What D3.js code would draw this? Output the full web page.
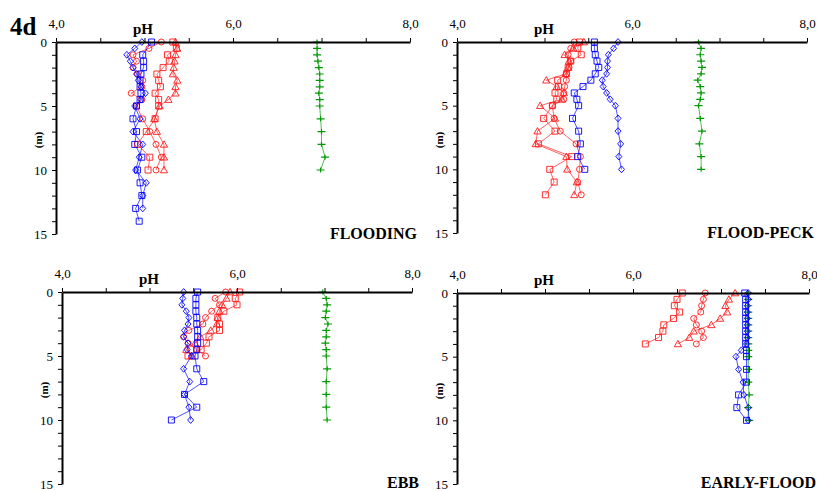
<!DOCTYPE html>
<html>
<head>
<meta charset="utf-8">
<script src="https://cdn.jsdelivr.net/npm/d3@7"></script>
<style>
  body { margin: 0; background: #fff; }
  svg { display: block; font-family: "Liberation Serif", "Times New Roman", serif; }
</style>
</head>
<body>
<svg id="chart" width="817" height="491"></svg>
<script>
// [depth (m), pH] pairs

// FLOODING
const floodBlueSq = [[0,5.08],[1,4.98],[1.5,4.99],[2,4.99],[2.5,4.96],[3,4.95],[3.5,4.95],[4,4.96],[4.5,4.95],[5,4.91],[6,4.87],[7,4.91],[8,4.89],[9,4.97],[10,4.92],[11,4.95],[12,4.97],[13,4.90],[14,4.94]];
const floodBlueDia = [[0,4.97],[0.5,4.89],[1,4.80],[1.5,4.84],[2,4.87],[2.5,4.91],[3,4.93],[3.5,4.96],[4,5.01],[4.5,4.96],[5,4.89],[6,4.95],[7,4.87],[8,4.98],[9,4.94],[10,4.90],[11,5.02],[12,4.98],[13,4.98]];
const floodRedCir = [[0,5.19],[0.5,5.05],[1,4.87],[1.5,4.91],[2,4.87],[2.5,4.92],[3,4.98],[3.5,4.97],[4,4.85],[4.5,4.97],[5,4.91],[6,4.98],[7,5.06],[8,5.13],[9,5.19],[10,5.13]];
const floodRedSq = [[0,5.32],[0.5,5.36],[1,5.26],[1.5,5.28],[2,5.21],[2.5,5.14],[3,5.16],[3.5,5.18],[4,5.12],[4.5,5.16],[5,5.16],[6,5.12],[7,5.02],[8,4.92],[9,5.06],[10,5.04]];
const floodRedTri = [[0,5.35],[0.5,5.37],[1,5.35],[1.5,5.34],[2,5.33],[2.5,5.32],[3,5.37],[3.5,5.35],[4,5.35],[4.5,5.27],[5,5.17],[6,5.11],[7,5.14],[8,5.22],[9,5.22],[10,5.22]];
const floodGreen = [[0,6.95],[0.5,6.95],[1,6.95],[1.5,6.96],[2,6.97],[2.5,6.98],[3,6.98],[3.5,6.98],[4,6.97],[4.5,6.98],[5,6.98],[6,6.99],[7,7.00],[8,7.00],[9,7.04],[10,6.99]];

// FLOOD-PECK
const peckBlueSq = [[0,5.57],[0.5,5.57],[1,5.58],[1.5,5.60],[2,5.62],[2.5,5.58],[3,5.53],[3.5,5.44],[4,5.34],[4.5,5.37],[5,5.39],[6,5.32],[7,5.39],[8,5.41],[9,5.38],[10,5.46]];
const peckBlueDia = [[0,5.84],[0.5,5.79],[1,5.73],[1.5,5.72],[2,5.72],[2.5,5.71],[3,5.66],[3.5,5.67],[4,5.71],[4.5,5.75],[5,5.81],[6,5.84],[7,5.84],[8,5.87],[9,5.85],[10,5.88]];
const peckRedCir = [[0,5.34],[0.5,5.30],[1,5.27],[1.5,5.30],[2,5.28],[2.5,5.25],[3,5.25],[3.5,5.23],[4,5.22],[4.5,5.22],[5,5.09],[6,5.11],[7,5.18],[8,5.36],[9,5.41],[10,5.40],[11,5.38],[12,5.42]];
const peckRedSq = [[0,5.40],[0.5,5.38],[1,5.42],[1.5,5.30],[2,5.27],[2.5,5.25],[3,5.15],[3.5,5.16],[4,5.12],[4.5,5.14],[5,5.09],[6,4.99],[7,5.12],[8,4.93],[9,5.31],[10,5.06],[11,5.11],[12,5.01]];
const peckRedTri = [[0,5.45],[0.5,5.33],[1,5.23],[1.5,5.28],[2,5.27],[2.5,5.24],[3,5.02],[3.5,5.14],[4,5.22],[4.5,5.20],[5,4.95],[6,5.12],[7,4.92],[8,4.90],[9,5.25],[10,5.26],[11,5.37],[12,5.34]];
const peckGreen = [[0,6.76],[0.5,6.79],[1,6.78],[1.5,6.79],[2,6.80],[2.5,6.79],[3,6.75],[3.5,6.78],[4,6.79],[4.5,6.78],[5,6.76],[6,6.78],[7,6.80],[8,6.77],[9,6.79],[10,6.79]];

// EBB
const ebbBlueDia = [[0,5.39],[0.5,5.38],[1,5.37],[1.5,5.42],[2,5.45],[2.5,5.44],[3,5.40],[3.5,5.39],[4,5.44],[4.5,5.43],[5,5.48],[6,5.39],[7,5.46],[8,5.40],[9,5.45],[10,5.47]];
const ebbBlueSq = [[0,5.55],[0.5,5.53],[1,5.53],[1.5,5.53],[2,5.54],[2.5,5.54],[3,5.55],[3.5,5.55],[4,5.55],[4.5,5.54],[5,5.52],[6,5.54],[7,5.62],[8,5.40],[9,5.54],[10,5.25]];
const ebbRedCir = [[0,5.87],[0.5,5.75],[1,5.80],[1.5,5.71],[2,5.64],[2.5,5.61],[3,5.45],[3.5,5.39],[4,5.44],[4.5,5.54],[5,5.64]];
const ebbRedSq = [[0,6.03],[0.5,5.98],[1,6.00],[1.5,5.85],[2,5.78],[2.5,5.80],[3,5.80],[3.5,5.68],[4,5.65],[4.5,5.59],[5,5.44]];
const ebbRedTri = [[0,5.92],[0.5,5.88],[1,5.83],[1.5,5.80],[2,5.78],[2.5,5.77],[3,5.70],[3.5,5.58],[4,5.52],[4.5,5.42],[5,5.48]];
const ebbGreen = [[0,6.98],[0.5,7.02],[1,7.03],[1.5,7.02],[2,7.01],[2.5,7.04],[3,7.02],[3.5,7.02],[4,7.01],[4.5,7.02],[5,7.02],[6,7.03],[7,7.02],[8,7.02],[9,7.02],[10,7.03]];

// EARLY-FLOOD
const earlyRedSq = [[0,6.56],[0.5,6.50],[1,6.47],[1.5,6.53],[2,6.46],[2.5,6.35],[3,6.34],[3.5,6.29],[4,6.14]];
const earlyRedCir = [[0,6.82],[0.5,6.80],[1,6.78],[1.5,6.77],[2,6.69],[2.5,6.72],[3,6.78],[3.5,6.80],[4,6.72]];
const earlyRedTri = [[0,7.16],[0.5,7.09],[1,7.05],[1.5,7.07],[2,6.99],[2.5,6.89],[3,6.69],[3.5,6.64],[4,6.51]];
const earlyBlueSq = [[0,7.27],[0.5,7.28],[1,7.28],[1.5,7.28],[2,7.28],[2.5,7.28],[3,7.28],[3.5,7.28],[4,7.28],[4.5,7.29],[5,7.29],[6,7.29],[7,7.29],[8,7.20],[9,7.18],[10,7.29]];
const earlyBlueDia = [[0,7.31],[0.5,7.31],[1,7.30],[1.5,7.30],[2,7.30],[2.5,7.30],[3,7.30],[3.5,7.30],[4,7.29],[4.5,7.23],[5,7.17],[6,7.20],[7,7.25],[8,7.26],[9,7.31],[10,7.31]];
const earlyGreen = [[0,7.31],[0.5,7.31],[1,7.31],[1.5,7.31],[2,7.31],[2.5,7.31],[3,7.31],[3.5,7.31],[4,7.31],[4.5,7.31],[5,7.31],[6,7.31],[7,7.31],[8,7.32],[9,7.31],[10,7.32]];

const panelLabels = ["FLOODING", "FLOOD-PECK", "EBB", "EARLY-FLOOD"];
const phTicks = [4, 4.5, 5, 5.5, 6, 6.5, 7, 7.5, 8];
const depthTicks = [0,1,2,3,4,5,6,7,8,9,10,11,12,13,14,15];

const RED = "#ff1a1a", BLUE = "#0000ff", GREEN = "#009a00";
const SERIF = "'Liberation Serif', 'Times New Roman', serif";

// panel boxes (pixel layout)
const panels = [
  { label: panelLabels[0], x0: 56, x1: 410, y0: 42, y1: 234,
    series: [[floodGreen,"plus",GREEN],[floodRedCir,"circle",RED],[floodRedSq,"square",RED],[floodRedTri,"triangle",RED],[floodBlueDia,"diamond",BLUE],[floodBlueSq,"square",BLUE]] },
  { label: panelLabels[1], x0: 457, x1: 807, y0: 42, y1: 233,
    series: [[peckGreen,"plus",GREEN],[peckRedCir,"circle",RED],[peckRedSq,"square",RED],[peckRedTri,"triangle",RED],[peckBlueDia,"diamond",BLUE],[peckBlueSq,"square",BLUE]] },
  { label: panelLabels[2], x0: 62, x1: 412, y0: 292, y1: 484,
    series: [[ebbGreen,"plus",GREEN],[ebbRedCir,"circle",RED],[ebbRedSq,"square",RED],[ebbRedTri,"triangle",RED],[ebbBlueDia,"diamond",BLUE],[ebbBlueSq,"square",BLUE]] },
  { label: panelLabels[3], x0: 457, x1: 809, y0: 293, y1: 484,
    series: [[earlyGreen,"plus",GREEN],[earlyRedCir,"circle",RED],[earlyRedSq,"square",RED],[earlyRedTri,"triangle",RED],[earlyBlueDia,"diamond",BLUE],[earlyBlueSq,"square",BLUE]] }
];

const svg = d3.select("#chart");

// figure tag
svg.append("text")
  .attr("x", 10).attr("y", 35)
  .style("font-size", "25px").style("font-weight", "bold")
  .text("4d");

function markerPath(shape) {
  switch (shape) {
    case "square": return "M-3,-3H3V3H-3Z";
    case "circle": return "M3,0A3,3 0 1,1 -3,0A3,3 0 1,1 3,0Z";
    case "triangle": return "M0,-3.6L3.6,2.8H-3.6Z";
    case "diamond": return "M0,-3.4L3,0L0,3.4L-3,0Z";
    case "plus": return "M-4,0H4M0,-2.5V2.5";
  }
}

panels.forEach((p) => {
  const x = d3.scaleLinear().domain([4, 8]).range([p.x0, p.x1]);
  const y = d3.scaleLinear().domain([0, 15]).range([p.y0, p.y1]);
  const g = svg.append("g");

  // series: line + hollow markers
  const line = d3.line().x((d) => x(d[1])).y((d) => y(d[0]));
  p.series.forEach(([data, shape, color]) => {
    g.append("path")
      .datum(data)
      .attr("d", line)
      .attr("fill", "none")
      .attr("stroke", color)
      .attr("stroke-width", 0.8)
      .attr("stroke-opacity", 0.85);
    g.selectAll(null)
      .data(data)
      .enter()
      .append("path")
      .attr("transform", (d) => `translate(${x(d[1])},${y(d[0])})`)
      .attr("d", markerPath(shape))
      .attr("fill", "none")
      .attr("stroke", color)
      .attr("stroke-width", shape === "plus" ? 1.2 : 0.9);
  });

  // X axis on top
  const xAxis = g.append("g")
    .attr("transform", `translate(0,${p.y0})`)
    .call(d3.axisTop(x).tickValues(phTicks).tickSize(4).tickSizeOuter(0).tickPadding(10)
      .tickFormat((d) => (d % 2 === 0 ? d.toFixed(1).replace(".", ",") : "")))
    .attr("font-family", SERIF)
    .attr("font-size", 13);
  xAxis.select(".domain").attr("stroke-width", 2);

  // Y axis on left
  const yAxis = g.append("g")
    .attr("transform", `translate(${p.x0},0)`)
    .call(d3.axisLeft(y).tickValues(depthTicks).tickSize(4).tickSizeOuter(0).tickPadding(5)
      .tickFormat((d) => (d % 5 === 0 ? d : "")))
    .attr("font-family", SERIF)
    .attr("font-size", 13);
  yAxis.select(".domain").attr("stroke-width", 2);

  // pH label
  g.append("text")
    .attr("x", p.x0 + 77).attr("y", p.y0 - 8)
    .style("font-size", "15px").style("font-weight", "bold")
    .text("pH");

  // depth label
  g.append("text")
    .attr("transform", `translate(${p.x0 - 14},${p.y0 + 98}) rotate(-90)`)
    .attr("text-anchor", "middle")
    .style("font-size", "11px").style("font-weight", "bold")
    .text("(m)");

  // panel name
  g.append("text")
    .attr("x", p.x1 + 7).attr("y", Math.min(p.y1 + 5, 488))
    .attr("text-anchor", "end")
    .style("font-size", "16px").style("font-weight", "bold")
    .text(p.label);
});
</script>
</body>
</html>
